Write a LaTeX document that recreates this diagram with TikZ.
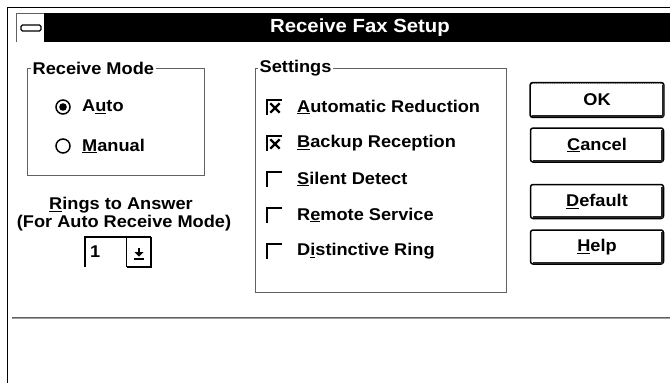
\documentclass[tikz,border=0pt]{standalone}
\usepackage{fontspec}
\setmainfont{Liberation Sans}[FakeStretch=1.07]
\definecolor{edgegray}{gray}{0.38}
\definecolor{lightedge}{gray}{0.62}
\newcommand\acc[1]{\underline{#1}}
\begin{document}
\begin{tikzpicture}[x=1pt,y=-1pt,
  uitext/.style={font=\bfseries\fontsize{17}{19}\selectfont, inner sep=0pt},
  lbl/.style={uitext, anchor=west},
  grouptitle/.style={uitext, anchor=west, fill=white, inner xsep=1.5pt, inner ysep=1pt},
  groupline/.style={draw=edgegray, line width=1pt},
  btn/.style={uitext, draw, rounded corners=2.5pt, line width=1.5pt,
    minimum width=133pt, minimum height=34pt},
  btnshade/.style={line width=2.2pt, black!85},
  radio/.style={circle, draw, line width=1.5pt, minimum size=14pt, inner sep=0pt},
  chk/.style={minimum size=13pt, inner sep=0pt},
  chkedge/.style={line width=2.2pt, line cap=rect},
]
\useasboundingbox (0,0) rectangle (670,383);
\fill[white] (0,0) rectangle (670,383);

% window frame
\draw[line width=1pt] (7,383) -- (7,7) -- (670,7);

% title bar with system menu box
\fill[black] (44,13) rectangle (670,42);
\draw[edgegray, line width=1pt] (16,42) -- (16,13) -- (44,13);
\node[draw, fill=white, rounded corners=1.5pt, line width=1.4pt,
      minimum width=20pt, minimum height=6pt, inner sep=0pt] (sysmenu) at (31,28) {};
\node[uitext, text=white, font=\bfseries\fontsize{19}{21}\selectfont] (title) at (360,27.5) {Receive Fax Setup};

% Receive Mode group
\draw[groupline] (27,68) rectangle (204,175);
\node[grouptitle] (rmtitle) at (31,68) {Receive Mode};
\node[radio] (rauto) at (63,107) {};
\fill (rauto.center) circle (3.8pt);
\node[lbl] (lauto) at (82,107) {A\acc{u}to};
\node[radio] (rmanual) at (63,146) {};
\node[lbl] (lmanual) at (82,146) {\acc{M}anual};

% rings to answer
\node[uitext] (rings) at (121,205) {\acc{R}ings to Answer};
\node[uitext] (ringsnote) at (124,223) {(For Auto Receive Mode)};
\node[minimum width=66pt, minimum height=30pt, inner sep=0pt] (combo) at (118,252) {};
\draw[line width=2pt] (combo.south west) -- (combo.north west) -- (combo.north east);
\node[uitext, anchor=west] (comboval) at ([xshift=5pt]combo.west) {1};
\node[minimum width=24pt, minimum height=30pt, inner sep=0pt, anchor=north east] (combobtn) at (combo.north east) {};
\draw[line width=1pt] (combobtn.north west) -- (combobtn.south west);
\draw[line width=2pt] (combobtn.south west) -- (combobtn.south east) -- (combobtn.north east);
\fill ([shift={(-1pt,4pt)}]combobtn.center) rectangle ([shift={(1pt,0pt)}]combobtn.center);
\fill ([shift={(-4.5pt,0pt)}]combobtn.center) -- ([shift={(4.5pt,0pt)}]combobtn.center)
      -- ([shift={(0pt,-4.5pt)}]combobtn.center) -- cycle;
\fill ([shift={(-5pt,-6pt)}]combobtn.center) rectangle ([shift={(5pt,-7.5pt)}]combobtn.center);

% Settings group
\draw[groupline] (255,68) rectangle (506,292);
\node[grouptitle] (settitle) at (258,68) {Settings};
\foreach \name/\yy/\txt/\tick in {
    c1/107/\acc{A}utomatic Reduction/1,
    c2/143/\acc{B}ackup Reception/1,
    c3/179/\acc{S}ilent Detect/0,
    c4/215/R\acc{e}mote Service/0,
    c5/251/D\acc{i}stinctive Ring/0}{
  \node[chk] (\name) at (274,\yy) {};
  \draw[chkedge] (\name.south west) -- (\name.north west) -- (\name.north east);
  \ifnum\tick=1
    \draw[line width=2.2pt] ([shift={(3pt,-3pt)}]\name.north west) -- ([shift={(-1pt,1pt)}]\name.south east);
    \draw[line width=2.2pt] ([shift={(3pt,1pt)}]\name.south west) -- ([shift={(-1pt,-3pt)}]\name.north east);
  \fi
  \node[lbl] (\name txt) at (297,\yy) {\txt};
}

% push buttons
\foreach \name/\yy/\txt in {
    bok/100/{\tikz[baseline=(o.base)]\node[draw, densely dotted, line width=0.8pt, inner sep=1.5pt] (o) {OK};},
    bcancel/145/\acc{C}ancel,
    bdefault/201.5/\acc{D}efault,
    bhelp/247/\acc{H}elp}{
  \node[btn] (\name) at (597,\yy) {\txt};
  \draw[btnshade] ([shift={(3pt,2pt)}]\name.south west) -- ([shift={(-2pt,2pt)}]\name.south east)
                  -- ([shift={(-2pt,-3pt)}]\name.north east);
}

% status separator
\draw[edgegray, line width=1pt] (12,317) -- (670,317);
\draw[lightedge, line width=0.8pt] (12,318.6) -- (670,318.6);
\end{tikzpicture}
\end{document}
